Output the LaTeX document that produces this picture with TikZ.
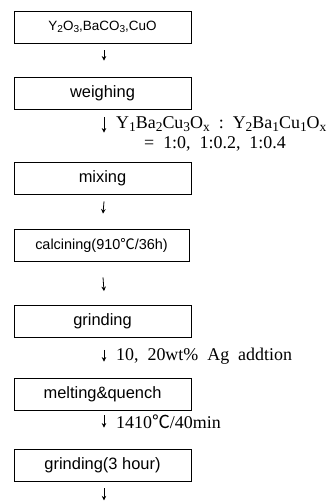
\documentclass[tikz,border=0pt]{standalone}
\usepackage{fontspec}
\usepackage{graphicx}
\setmainfont{Liberation Serif}
\newfontfamily\boxfont{Liberation Sans}
\newfontfamily\cjk{Noto Sans CJK KR}
\usetikzlibrary{arrows.meta}
\newcommand\sbs[1]{\raisebox{-0.3ex}{\scalebox{0.75}{#1}}}
\newcommand\degc{{\cjk ℃}}
\tikzset{
  stepbox/.style={draw=black, line width=0.8bp, minimum width=177bp, minimum height=32bp,
    inner sep=0pt, font=\boxfont\fontsize{16.5}{18}\selectfont},
  arr/.style={line width=0.8bp, -{Stealth[length=4.5bp,width=4.5bp]}},
  lab/.style={anchor=west, inner sep=0pt, font=\fontsize{18}{20.5}\selectfont}
}
\begin{document}
\begin{tikzpicture}[x=1bp,y=-1bp]
\useasboundingbox (0,0) rectangle (334,501);
\node[stepbox, font=\boxfont\fontsize{13.5}{15}\selectfont] (b1) at (102.5,27) {Y\sbs{2}O\sbs{3},BaCO\sbs{3},CuO};
\node[stepbox] (b2) at (102.5,93) {weighing};
\node[stepbox] (b3) at (102.5,178) {mixing};
\node[stepbox, minimum width=175bp, font=\boxfont\fontsize{14.5}{16}\selectfont] (b4) at (101.5,245) {calcining(910\degc/36h)};
\node[stepbox] (b5) at (102.5,321.5) {grinding};
\node[stepbox] (b6) at (102.5,394) {melting\&quench};
\node[stepbox] (b7) at (102.5,465) {grinding(3 hour)};
\coordinate (end) at ([shift={(1.5,19)}]b7.south);

\draw[arr] ([shift={(1.5,7)}]b1.south) -- ([shift={(1.5,-16)}]b2.north);
\draw[arr] ([shift={(1.5,8)}]b2.south) -- ([shift={(1.5,-29)}]b3.north) coordinate[pos=0.5] (m2);
\draw[arr] ([shift={(1.5,7)}]b3.south) -- ([shift={(1.5,-15)}]b4.north);
\draw[arr] ([shift={(1.5,16)}]b4.south) -- ([shift={(1.5,-14)}]b5.north);
\draw[arr] ([shift={(1.5,12)}]b5.south) -- ([shift={(1.5,-16)}]b6.north) coordinate[pos=0.5] (m5);
\draw[arr] ([shift={(1.5,5)}]b6.south) -- ([shift={(1.5,-21)}]b7.north) coordinate[pos=0.5] (m6);
\draw[arr] ([shift={(1.5,7)}]b7.south) -- (end);

\node[lab, anchor=north west, align=left] (l1) at ([shift={(12,-8.5)}]m2)
  {Y\sbs{1}Ba\sbs{2}Cu\sbs{3}O\sbs{x}\ \ :\ \ Y\sbs{2}Ba\sbs{1}Cu\sbs{1}O\sbs{x}\\
   \hspace*{28bp}=\ \ 1:0,\ \ 1:0.2,\ \ 1:0.4};
\node[lab] (l3) at ([xshift=12]m5) {10,\ \ 20wt\%\ \ Ag\ \ addtion};
\node[lab] (l4) at ([xshift=12]m6) {1410\degc/40min};
\end{tikzpicture}
\end{document}
